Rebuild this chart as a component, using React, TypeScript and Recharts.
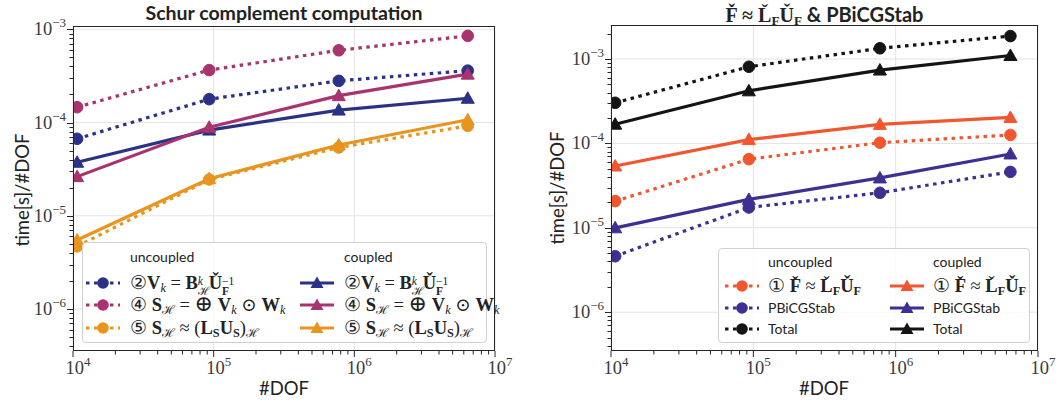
import React from "react";
import { LineChart, Line, XAxis, YAxis, CartesianGrid } from "recharts";

// #DOF per run
const dof = [10700, 93000, 775000, 6400000];

// left: Schur complement computation, time[s]/#DOF
const solveUncoupled = [6.7e-5, 1.78e-4, 2.8e-4, 3.6e-4];
const schurUncoupled = [1.46e-4, 3.65e-4, 5.95e-4, 8.5e-4];
const luUncoupled = [4.7e-6, 2.45e-5, 5.4e-5, 9.2e-5];
const solveCoupled = [3.75e-5, 8.3e-5, 1.36e-4, 1.82e-4];
const schurCoupled = [2.63e-5, 8.9e-5, 1.94e-4, 3.3e-4];
const luCoupled = [5.5e-6, 2.5e-5, 5.75e-5, 1.07e-4];

// right: factorization & PBiCGStab
const factUncoupled = [2.07e-5, 6.5e-5, 1.02e-4, 1.26e-4];
const krylovUncoupled = [4.6e-6, 1.74e-5, 2.6e-5, 4.6e-5];
const totalUncoupled = [3.03e-4, 8.1e-4, 1.34e-3, 1.87e-3];
const factCoupled = [5.4e-5, 1.11e-4, 1.68e-4, 2.03e-4];
const krylovCoupled = [1.0e-5, 2.17e-5, 3.9e-5, 7.5e-5];
const totalCoupled = [1.69e-4, 4.2e-4, 7.4e-4, 1.1e-3];

const xMajor = [1e4, 1e5, 1e6, 1e7];
const yMajor = [1e-6, 1e-5, 1e-4, 1e-3];
const minorSteps = [1, 2, 3, 4, 5, 6, 7, 8, 9];

const leftYDomain: [number, number] = [3.55e-7, 1.084e-3];
const rightYDomain: [number, number] = [3.47e-7, 2.53e-3];

const blue = "#2B3286";
const magenta = "#A8336F";
const orange = "#E8951F";
const red = "#F2562F";
const violet = "#3D3092";
const black = "#141414";

const SANS = "Lato, 'Noto Sans', sans-serif";
const SERIF = "'Liberation Serif', 'DejaVu Serif', serif";
const AXIS = "#262626";

const leftData = dof.map((d, i) => ({
  dof: d,
  solveU: solveUncoupled[i],
  schurU: schurUncoupled[i],
  luU: luUncoupled[i],
  solveC: solveCoupled[i],
  schurC: schurCoupled[i],
  luC: luCoupled[i],
}));

const rightData = dof.map((d, i) => ({
  dof: d,
  factU: factUncoupled[i],
  krylovU: krylovUncoupled[i],
  totalU: totalUncoupled[i],
  factC: factCoupled[i],
  krylovC: krylovCoupled[i],
  totalC: totalCoupled[i],
}));

function logTicks(lo: number, hi: number) {
  const out: number[] = [];
  for (let e = Math.floor(Math.log10(lo)); e <= Math.ceil(Math.log10(hi)); e++) {
    for (const m of minorSteps) {
      const v = m * Math.pow(10, e);
      if (v >= lo * 0.999 && v <= hi * 1.001) out.push(v);
    }
  }
  return out;
}

const xTicks = logTicks(xMajor[0], xMajor[xMajor.length - 1]);

function isMajor(v: number) {
  const l = Math.log10(v);
  return Math.abs(l - Math.round(l)) < 1e-9;
}

function expText(v: number) {
  const e = Math.round(Math.log10(v));
  return e < 0 ? "\u2212" + Math.abs(e) : String(e);
}

function XTick(props: any) {
  const { x, y, payload } = props;
  const v = payload.value;
  const major = isMajor(v);
  return (
    <g>
      <path d={`M${x},${y}V${y + (major ? 6 : 3.5)}`} stroke={AXIS} strokeWidth={1} fill="none" />
      {major && (
        <text x={x + 5} y={y + 23} textAnchor="middle" fontFamily={SERIF} fontSize={18.5} fill="#3a3a3a">
          10
          <tspan dy={-8} fontSize={13}>{expText(v)}</tspan>
        </text>
      )}
    </g>
  );
}

function YTick(props: any) {
  const { x, y, payload } = props;
  const v = payload.value;
  const major = isMajor(v);
  const yy = Math.round(y) + 0.5;
  return (
    <g>
      <path d={`M${x},${yy}H${x - (major ? 6 : 3.5)}`} stroke={AXIS} strokeWidth={1} fill="none" />
      {major && (
        <text x={x - 7} y={y + 6} textAnchor="end" fontFamily={SERIF} fontSize={18.5} fill="#3a3a3a">
          10
          <tspan dy={-8} fontSize={13}>{expText(v)}</tspan>
        </text>
      )}
    </g>
  );
}

function circleDot(color: string) {
  return (p: any) => <circle key={p.index} cx={p.cx} cy={p.cy} r={5.8} fill={color} stroke={color} />;
}

function triDot(color: string) {
  return (p: any) => (
    <path
      key={p.index}
      d={`M${p.cx},${p.cy - 6.5} L${p.cx + 6.5},${p.cy + 5} L${p.cx - 6.5},${p.cy + 5} Z`}
      fill={color}
      stroke={color}
    />
  );
}

const DOTTED = "3.5 4.5";

function series(key: string, color: string, coupled: boolean) {
  return (
    <Line
      key={key}
      type="linear"
      dataKey={key}
      stroke={color}
      strokeWidth={3.2}
      strokeDasharray={coupled ? undefined : DOTTED}
      dot={coupled ? triDot(color) : circleDot(color)}
      activeDot={false}
      isAnimationActive={false}
    />
  );
}

function Handle({ color, coupled }: { color: string; coupled: boolean }) {
  return (
    <svg width={36} height={14} style={{ position: "absolute", left: 0, top: -7 }}>
      <line x1={1} x2={35} y1={7} y2={7} stroke={color} strokeWidth={3.2} strokeDasharray={coupled ? undefined : DOTTED} />
      {coupled ? (
        <path d="M18,0.5 L24.5,12 L11.5,12 Z" fill={color} />
      ) : (
        <circle cx={18} cy={7} r={5.8} fill={color} />
      )}
    </svg>
  );
}

const bf = (s: string) => <span style={{ fontWeight: "bold" }}>{s}</span>;
const it = (s: string) => <span style={{ fontStyle: "italic" }}>{s}</span>;
const sub = (c: React.ReactNode) => (
  <span style={{ fontSize: "0.66em", position: "relative", top: "0.26em", lineHeight: 0 }}>{c}</span>
);
const SupSub = ({ sup, sb }: { sup: React.ReactNode; sb: React.ReactNode }) => (
  <span style={{ display: "inline-block", position: "relative", width: "0.95em", height: "0.7em", fontSize: "0.62em" }}>
    <span style={{ position: "absolute", left: 0, top: "-0.45em", lineHeight: 1 }}>{sup}</span>
    <span style={{ position: "absolute", left: 0, top: "0.45em", lineHeight: 1 }}>{sb}</span>
  </span>
);
// bold L with a hacek on top (the combining mark turns into an apostrophe on L)
const Lchk = () => (
  <span style={{ position: "relative", display: "inline-block", fontWeight: "bold" }}>
    L
    <span
      style={{
        position: "absolute",
        left: 0,
        right: 0,
        top: "-0.12em",
        lineHeight: 1,
        textAlign: "center",
        fontWeight: "normal",
      }}
    >
      {"\u02C7"}
    </span>
  </span>
);
const calH = "\u210B";
const Uc = "U\u030C";
const Fc = "F\u030C";

const eqSolve = (
  <>
    {"\u2461"}
    {bf("V")}
    {sub(it("k"))} = {bf("B")}
    <SupSub sup={it("k")} sb={calH} />
    {bf(Uc)}
    <SupSub sup={"\u22121"} sb={bf("F")} />
  </>
);
const eqSchur = (
  <>
    {"\u2463"} {bf("S")}
    {sub(calH)} = <span style={{ fontSize: "1.2em", lineHeight: 0 }}>{"\u2295"}</span> {bf("V")}
    {sub(it("k"))} {"\u2299"} {bf("W")}
    {sub(it("k"))}
  </>
);
const eqLu = (
  <>
    {"\u2464"} {bf("S")}
    {sub(calH)} {"\u2248"} ({bf("L")}
    {sub(bf("S"))}
    {bf("U")}
    {sub(bf("S"))}){sub(calH)}
  </>
);
const eqFact = (
  <>
    {"\u2460"} {bf(Fc)} {"\u2248"} <Lchk />
    {sub(bf("F"))}
    {bf(Uc)}
    {sub(bf("F"))}
  </>
);

type Row = { color: string; label: React.ReactNode; math: boolean };

function LegendBox(props: {
  left: number;
  top: number;
  width: number;
  height: number;
  headerY: number;
  rowYs: number[];
  col1: number;
  col2: number;
  textGap: number;
  mathSize: number;
  rows: Row[];
}) {
  const { left, top, width, height, headerY, rowYs, col1, col2, textGap, mathSize, rows } = props;
  const txt = (x: number, y: number, content: React.ReactNode, math: boolean, key: string) => (
    <div
      key={key}
      style={{
        position: "absolute",
        left: x,
        top: y - 10,
        height: 20,
        lineHeight: "20px",
        whiteSpace: "nowrap",
        fontFamily: math ? SERIF : SANS,
        fontSize: math ? mathSize : 14,
        color: "#222",
      }}
    >
      {content}
    </div>
  );
  return (
    <div
      style={{
        position: "absolute",
        left,
        top,
        width,
        height,
        boxSizing: "border-box",
        border: "1px solid #d0d0d0",
        borderRadius: 4,
        background: "rgba(255,255,255,0.8)",
      }}
    >
      {txt(col1 + textGap, headerY, "uncoupled", false, "hu")}
      {txt(col2 + textGap, headerY, "coupled", false, "hc")}
      {rows.map((r, i) => (
        <React.Fragment key={i}>
          <div style={{ position: "absolute", left: col1, top: rowYs[i] }}>
            <Handle color={r.color} coupled={false} />
          </div>
          {txt(col1 + textGap, rowYs[i], r.label, r.math, "a" + i)}
          <div style={{ position: "absolute", left: col2, top: rowYs[i] }}>
            <Handle color={r.color} coupled={true} />
          </div>
          {txt(col2 + textGap, rowYs[i], r.label, r.math, "b" + i)}
        </React.Fragment>
      ))}
    </div>
  );
}

function Frame({ left, top, width, height }: { left: number; top: number; width: number; height: number }) {
  return (
    <div
      style={{
        position: "absolute",
        left,
        top,
        width,
        height,
        boxSizing: "border-box",
        border: `1.2px solid ${AXIS}`,
        pointerEvents: "none",
      }}
    />
  );
}

function YLabel({ x, y }: { x: number; y: number }) {
  return (
    <div
      style={{
        position: "absolute",
        left: x - 80,
        top: y - 12,
        width: 160,
        height: 24,
        lineHeight: "24px",
        textAlign: "center",
        transform: "rotate(-90deg)",
        fontFamily: SANS,
        fontSize: 18.5,
        color: "#222",
      }}
    >
      time[s]/#DOF
    </div>
  );
}

function XLabel({ x, y }: { x: number; y: number }) {
  return (
    <div
      style={{
        position: "absolute",
        left: x - 60,
        top: y - 12,
        width: 120,
        height: 24,
        lineHeight: "24px",
        textAlign: "center",
        fontFamily: SANS,
        fontSize: 18.5,
        color: "#222",
      }}
    >
      #DOF
    </div>
  );
}

function axes(yDomain: [number, number], yWidth: number) {
  return [
    <XAxis
      key="x"
      dataKey="dof"
      type="number"
      scale="log"
      domain={[xMajor[0], xMajor[3]]}
      ticks={xTicks}
      interval={0}
      height={30}
      axisLine={false}
      tickLine={false}
      tickSize={0}
      tickMargin={0}
      tick={<XTick />}
      allowDataOverflow
    />,
    <YAxis
      key="y"
      type="number"
      scale="log"
      domain={yDomain}
      ticks={logTicks(yDomain[0], yDomain[1])}
      interval={0}
      width={yWidth}
      axisLine={false}
      tickLine={false}
      tickSize={0}
      tickMargin={0}
      tick={<YTick />}
      allowDataOverflow
    />,
  ];
}

export default function App() {
  return (
    <div style={{ position: "absolute", left: 0, top: 0, width: 1064, height: 406, background: "#fff", overflow: "hidden" }}>
      {/* left panel */}
      <div style={{ position: "absolute", left: 0, top: 0 }}>
        <LineChart width={540} height={406} data={leftData} margin={{ top: 26, right: 45, bottom: 25, left: 0 }}>
          <CartesianGrid horizontalValues={yMajor} verticalValues={xMajor} stroke="#e3e3e3" strokeWidth={1} />
          {axes(leftYDomain, 73)}
          {series("luU", orange, false)}
          {series("luC", orange, true)}
          {series("schurU", magenta, false)}
          {series("solveU", blue, false)}
          {series("solveC", blue, true)}
          {series("schurC", magenta, true)}
        </LineChart>
      </div>
      <Frame left={73} top={26} width={422} height={325} />
      <div
        style={{
          position: "absolute",
          left: 73,
          width: 422,
          top: 1,
          textAlign: "center",
          fontFamily: SANS,
          fontWeight: "bold",
          fontSize: 19.5,
          color: "#222",
        }}
      >
        Schur complement computation
      </div>
      <YLabel x={22} y={190} />
      <XLabel x={284} y={388} />
      <LegendBox
        left={82}
        top={242}
        width={405}
        height={101}
        headerY={14}
        rowYs={[40, 62, 85]}
        col1={2}
        col2={216}
        textGap={45}
        mathSize={18.5}
        rows={[
          { color: blue, label: eqSolve, math: true },
          { color: magenta, label: eqSchur, math: true },
          { color: orange, label: eqLu, math: true },
        ]}
      />

      {/* right panel */}
      <div style={{ position: "absolute", left: 540, top: 0 }}>
        <LineChart width={524} height={406} data={rightData} margin={{ top: 25, right: 26, bottom: 25, left: 0 }}>
          <CartesianGrid horizontalValues={yMajor} verticalValues={xMajor} stroke="#e3e3e3" strokeWidth={1} />
          {axes(rightYDomain, 71)}
          {series("factU", red, false)}
          {series("krylovU", violet, false)}
          {series("totalU", black, false)}
          {series("factC", red, true)}
          {series("krylovC", violet, true)}
          {series("totalC", black, true)}
        </LineChart>
      </div>
      <Frame left={611} top={25} width={427} height={326} />
      <div
        style={{
          position: "absolute",
          left: 611,
          width: 427,
          top: 2,
          textAlign: "center",
          fontFamily: SANS,
          fontWeight: "bold",
          fontSize: 20,
          color: "#222",
          whiteSpace: "nowrap",
        }}
      >
        <span style={{ fontFamily: SERIF }}>
          {bf(Fc)} {"\u2248"} <Lchk />
          {sub(bf("F"))}
          {bf(Uc)}
          {sub(bf("F"))}
        </span>{" "}
        &amp; PBiCGStab
      </div>
      <YLabel x={557} y={188} />
      <XLabel x={824} y={388} />
      <LegendBox
        left={718}
        top={248}
        width={312}
        height={95}
        headerY={13}
        rowYs={[37, 59, 80]}
        col1={5}
        col2={170}
        textGap={44}
        mathSize={18.5}
        rows={[
          { color: red, label: eqFact, math: true },
          { color: violet, label: "PBiCGStab", math: false },
          { color: black, label: "Total", math: false },
        ]}
      />
    </div>
  );
}
